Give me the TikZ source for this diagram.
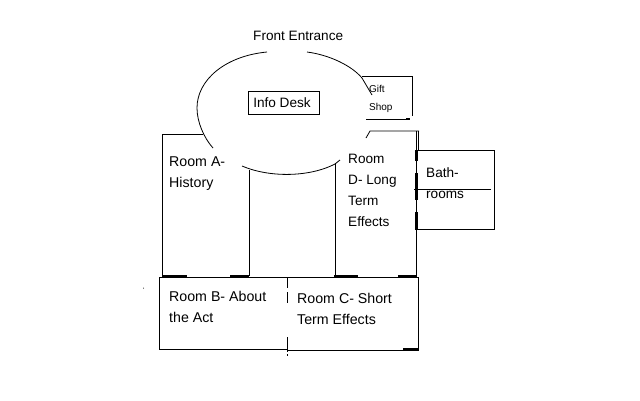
\documentclass[tikz,border=0pt]{standalone}
\usepackage{fontspec}
\setmainfont{Liberation Sans}
\tikzset{
	roomtext/.style={anchor=north west,inner sep=0pt,align=left,font=\fontsize{13.6}{21}\selectfont},
	widetext/.style={roomtext,font=\fontsize{14.2}{21}\selectfont},
	smalltext/.style={anchor=north west,inner sep=0pt,align=left,font=\fontsize{10}{18}\selectfont},
	wall/.style={line width=0.8pt},
	door/.style={line width=2.6pt}
}
\begin{document}
\begin{tikzpicture}[x=1pt,y=-1pt]
	\useasboundingbox (0,0) rectangle (640,400);

	% lobby
	\draw[wall] (267,52) .. controls (225,56) and (197,80) .. (197,108) .. controls (197,122) and (204,138) .. (213,148);
	\draw[wall] (307,52) .. controls (330,55) and (352,66) .. (362,78) -- (372,95);
	\draw[wall] (242,166) .. controls (270,178) and (310,177) .. (335,164) -- (340,160);
	\node[draw,wall,minimum width=71pt,minimum height=23pt,inner sep=0pt,font=\fontsize{13.6}{21}\selectfont] (desk) at (283.5,102.5) {\hspace{-3pt}Info Desk};
	\node[roomtext] (entrance) at (253,31) {Front Entrance};

	% gift shop
	\draw[wall] (362,76) -- (412,76) -- (412,116);
	\draw[wall] (366,119) -- (410,119);
	\draw[door] (406,119) -- (410,119);
	\node[smalltext] (gift) at (369,85) {Gift\\Shop};

	% rooms A and D
	\draw[wall] (203,134) -- (162,134) -- (162,276);
	\draw[wall] (249,170) -- (249,276);
	\draw[wall] (335,163) -- (335,276);
	\draw[wall] (366,138) -- (370,131) -- (419,131);
	\draw[wall] (416.5,131) -- (416.5,276);
	\draw[wall] (418,131) -- (418,150);
	\node[widetext] (roomA) at (169,157) {Room A-\\History};
	\node[roomtext] (roomD) at (348,154) {Room\\D- Long\\Term\\Effects};

	% bathrooms
	\draw[wall] (416.5,150) -- (494,150) -- (494,229) -- (416.5,229);
	\draw[wall] (414,189) -- (491,189);
	\draw[door] (416.5,150) -- (416.5,161);
	\draw[door] (416.5,173) -- (416.5,200);
	\draw[door] (416.5,212) -- (416.5,230);
	\node[roomtext] (bath) at (426,167) {Bath-\\rooms};

	% rooms B and C
	\draw[wall] (159,277) -- (418,277) -- (418,350) -- (288,350);
	\draw[wall] (288,349) -- (159,349) -- (159,277);
	\foreach \xa/\xb in {162/187,230/249,334/358,398/417}
		\draw[door] (\xa,276) -- (\xb,276);
	\draw[door] (403,349.5) -- (418,349.5);
	\draw[wall] (287.5,277) -- (287.5,288);
	\draw[wall] (287.5,292) -- (287.5,303);
	\draw[wall] (287.5,337) -- (287.5,352);
	\draw[wall] (287.5,354) -- (287.5,356);
	\fill (143.5,288) circle (0.5pt);
	\node[widetext] (roomB) at (169,291.5) {Room B- About\\the Act};
	\node[widetext] (roomC) at (297,293.5) {Room C- Short\\Term Effects};

\end{tikzpicture}
\end{document}
